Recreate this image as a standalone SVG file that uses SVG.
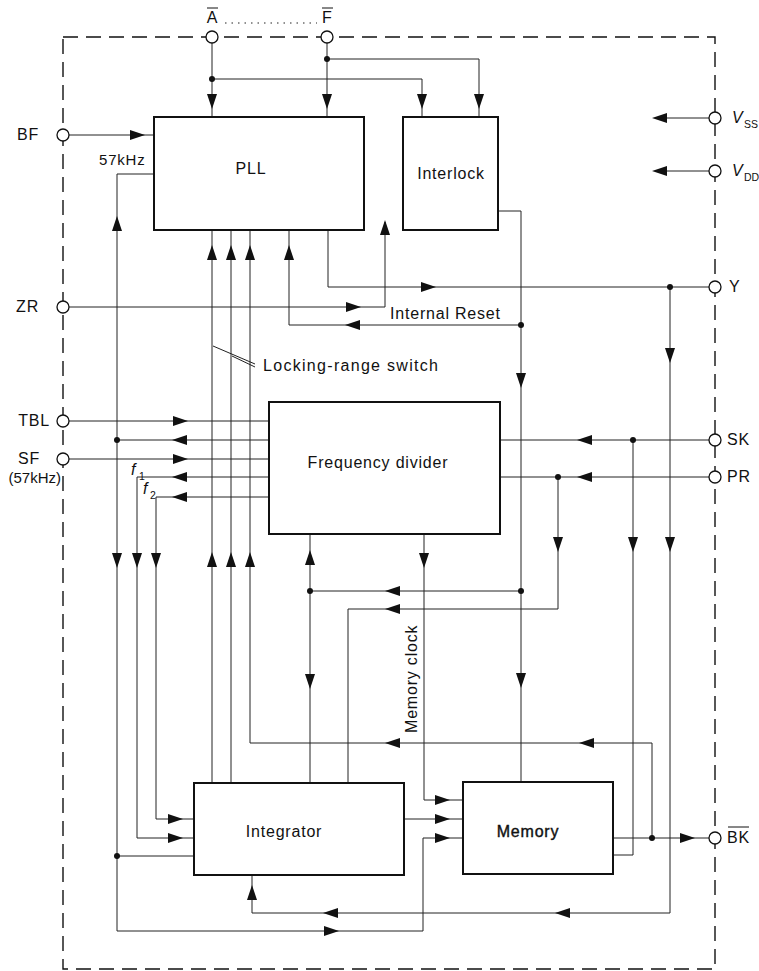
<svg xmlns="http://www.w3.org/2000/svg" xmlns:xlink="http://www.w3.org/1999/xlink" width="759" height="971" viewBox="0 0 759 971">
<style>
.bx{fill:#fff;stroke:#111;stroke-width:2}
.ln{fill:none;stroke:#222;stroke-width:1}
.bd{fill:none;stroke:#111;stroke-width:1.4;stroke-dasharray:15 8}
.pin{fill:#fff;stroke:#111;stroke-width:1.3}
.dot{fill:#111}
.t{font-family:"Liberation Sans",Arial,sans-serif;font-size:16px;fill:#111;letter-spacing:0.8px}
.tc{text-anchor:middle}
.te{text-anchor:end}
.sub{font-size:10.5px;letter-spacing:0}
.ar{fill:#111}
</style>
<defs>
<path id="a" d="M8,0 L-7,-5 L-7,5 Z"/>
</defs>
<rect width="759" height="971" fill="#fff"/>
<rect class="bd" x="63" y="37" width="652" height="932"/>

<g id="connectors">
<path class="ln" d="M212,43 V117 M212,79 H422 V117"/>
<path class="ln" d="M327,43 V117 M327,59 H479 V117"/>
<path class="ln" d="M69,135 H154"/>
<path class="ln" d="M154,174 H117 V931 H423 V838 H463"/>
<path class="ln" d="M269,440 H117"/>
<path class="ln" d="M117,856 H194"/>
<path class="ln" d="M69,307 H385 V222"/>
<path class="ln" d="M212,230 V783 M231,230 V783"/>
<path class="ln" d="M250,230 V743 H652 V838"/>
<path class="ln" d="M521,325 H289 V230"/>
<path class="ln" d="M328,230 V287 H709"/>
<path class="ln" d="M498,211 H521 V782"/>
<path class="ln" d="M670,287 V913 H252 V875"/>
<path class="ln" d="M709,118 H655 M709,171 H655"/>
<path class="ln" d="M69,421 H269 M69,459 H269"/>
<path class="ln" d="M269,477 H137 V838 H194"/>
<path class="ln" d="M269,497 H156 V819 H194"/>
<path class="ln" d="M709,440 H500 M633,440 V855 H613"/>
<path class="ln" d="M709,477 H500 M558,477 V609 H348 V783"/>
<path class="ln" d="M310,534 V783 M521,591 H310"/>
<path class="ln" d="M424,534 V800 H463"/>
<path class="ln" d="M404,819 H463"/>
<path class="ln" d="M613,838 H709"/>
<path class="ln" d="M213,346 L255,364 M232,356 L255,367" stroke-width="0.8"/>
<path class="ln" d="M225,23 H317" stroke-dasharray="1.5 5" stroke-width="1.3"/>

<circle class="dot" cx="212" cy="79" r="3"/>
<circle class="dot" cx="327" cy="59" r="3"/>
<circle class="dot" cx="117" cy="440" r="3"/>
<circle class="dot" cx="117" cy="856" r="3"/>
<circle class="dot" cx="521" cy="325" r="3"/>
<circle class="dot" cx="521" cy="591" r="3"/>
<circle class="dot" cx="310" cy="591" r="3"/>
<circle class="dot" cx="670" cy="287" r="3"/>
<circle class="dot" cx="633" cy="440" r="3"/>
<circle class="dot" cx="558" cy="477" r="3"/>
<circle class="dot" cx="652" cy="838" r="3"/>

<g class="ar">
<use xlink:href="#a" transform="translate(212,101) rotate(90)"/>
<use xlink:href="#a" transform="translate(327,101) rotate(90)"/>
<use xlink:href="#a" transform="translate(422,101) rotate(90)"/>
<use xlink:href="#a" transform="translate(479,101) rotate(90)"/>
<use xlink:href="#a" transform="translate(137,135)"/>
<use xlink:href="#a" transform="translate(117,224) rotate(-90)"/>
<use xlink:href="#a" transform="translate(212,253) rotate(-90)"/>
<use xlink:href="#a" transform="translate(231,253) rotate(-90)"/>
<use xlink:href="#a" transform="translate(250,253) rotate(-90)"/>
<use xlink:href="#a" transform="translate(289,253) rotate(-90)"/>
<use xlink:href="#a" transform="translate(353,307)"/>
<use xlink:href="#a" transform="translate(385,228) rotate(-90)"/>
<use xlink:href="#a" transform="translate(428,287)"/>
<use xlink:href="#a" transform="translate(353,325) rotate(180)"/>
<use xlink:href="#a" transform="translate(521,380) rotate(90)"/>
<use xlink:href="#a" transform="translate(670,355) rotate(90)"/>
<use xlink:href="#a" transform="translate(660,118) rotate(180)"/>
<use xlink:href="#a" transform="translate(660,171) rotate(180)"/>
<use xlink:href="#a" transform="translate(180,421)"/>
<use xlink:href="#a" transform="translate(180,440) rotate(180)"/>
<use xlink:href="#a" transform="translate(180,459)"/>
<use xlink:href="#a" transform="translate(180,477) rotate(180)"/>
<use xlink:href="#a" transform="translate(180,497) rotate(180)"/>
<use xlink:href="#a" transform="translate(585,440) rotate(180)"/>
<use xlink:href="#a" transform="translate(585,477) rotate(180)"/>
<use xlink:href="#a" transform="translate(117,560) rotate(90)"/>
<use xlink:href="#a" transform="translate(137,560) rotate(90)"/>
<use xlink:href="#a" transform="translate(156,560) rotate(90)"/>
<use xlink:href="#a" transform="translate(212,560) rotate(-90)"/>
<use xlink:href="#a" transform="translate(231,560) rotate(-90)"/>
<use xlink:href="#a" transform="translate(250,560) rotate(-90)"/>
<use xlink:href="#a" transform="translate(310,558) rotate(-90)"/>
<use xlink:href="#a" transform="translate(424,560) rotate(90)"/>
<use xlink:href="#a" transform="translate(558,544) rotate(90)"/>
<use xlink:href="#a" transform="translate(633,544) rotate(90)"/>
<use xlink:href="#a" transform="translate(670,544) rotate(90)"/>
<use xlink:href="#a" transform="translate(393,591) rotate(180)"/>
<use xlink:href="#a" transform="translate(393,609) rotate(180)"/>
<use xlink:href="#a" transform="translate(310,681) rotate(90)"/>
<use xlink:href="#a" transform="translate(521,680) rotate(90)"/>
<use xlink:href="#a" transform="translate(393,743) rotate(180)"/>
<use xlink:href="#a" transform="translate(587,743) rotate(180)"/>
<use xlink:href="#a" transform="translate(175,819)"/>
<use xlink:href="#a" transform="translate(175,838)"/>
<use xlink:href="#a" transform="translate(442,800)"/>
<use xlink:href="#a" transform="translate(442,819)"/>
<use xlink:href="#a" transform="translate(442,838)"/>
<use xlink:href="#a" transform="translate(687,838)"/>
<use xlink:href="#a" transform="translate(252,893) rotate(-90)"/>
<use xlink:href="#a" transform="translate(563,913) rotate(180)"/>
<use xlink:href="#a" transform="translate(331,913) rotate(180)"/>
<use xlink:href="#a" transform="translate(331,931)"/>
</g>
</g>

<g id="labels">
<text class="t" x="99" y="165" style="font-size:15px">57kHz</text>
<text class="t" x="390" y="319">Internal Reset</text>
<text class="t" x="263" y="371" style="letter-spacing:1.3px">Locking-range switch</text>
<text class="t" x="131" y="475" font-style="italic" style="letter-spacing:0">f</text>
<text class="t sub" x="139" y="480">1</text>
<text class="t" x="143" y="494" font-style="italic" style="letter-spacing:0">f</text>
<text class="t sub" x="150" y="499">2</text>
<text class="t" transform="translate(417,733) rotate(-90)">Memory clock</text>
</g>

<g id="PLL">
<rect class="bx" x="154" y="117" width="210" height="113"/>
<text class="t tc" x="251" y="174">PLL</text>
</g>
<g id="Interlock">
<rect class="bx" x="403" y="117" width="95" height="113"/>
<text class="t tc" x="451" y="179">Interlock</text>
</g>
<g id="FrequencyDivider">
<rect class="bx" x="269" y="402" width="231" height="132"/>
<text class="t tc" x="378" y="468">Frequency divider</text>
</g>
<g id="Integrator">
<rect class="bx" x="194" y="783" width="210" height="92"/>
<text class="t tc" x="284" y="837">Integrator</text>
</g>
<g id="Memory">
<rect class="bx" x="463" y="782" width="150" height="92"/>
<text class="t tc" x="528" y="837" stroke="#111" stroke-width="0.4">Memory</text>
</g>

<g id="pin-A">
<circle class="pin" cx="212" cy="37" r="6"/>
<text class="t tc" x="212" y="23" style="letter-spacing:0">A</text>
<line x1="207" y1="8" x2="218" y2="8" stroke="#111" stroke-width="1"/>
</g>
<g id="pin-F">
<circle class="pin" cx="327" cy="37" r="6"/>
<text class="t tc" x="327" y="23" style="letter-spacing:0">F</text>
<line x1="322" y1="8" x2="333" y2="8" stroke="#111" stroke-width="1"/>
</g>
<g id="pin-BF">
<circle class="pin" cx="63" cy="135" r="6"/>
<text class="t te" x="39" y="140">BF</text>
</g>
<g id="pin-ZR">
<circle class="pin" cx="63" cy="307" r="6"/>
<text class="t te" x="39" y="312">ZR</text>
</g>
<g id="pin-TBL">
<circle class="pin" cx="63" cy="421" r="6"/>
<text class="t te" x="50" y="426">TBL</text>
</g>
<g id="pin-SF">
<circle class="pin" cx="63" cy="459" r="6"/>
<text class="t te" x="40" y="464">SF</text>
<text class="t te" x="61" y="483" style="letter-spacing:0;font-size:15px">(57kHz)</text>
</g>
<g id="pin-VSS">
<circle class="pin" cx="715" cy="118" r="6"/>
<text class="t" x="732" y="123" font-style="italic" style="letter-spacing:0">V</text>
<text class="t sub" x="744" y="128">SS</text>
</g>
<g id="pin-VDD">
<circle class="pin" cx="715" cy="171" r="6"/>
<text class="t" x="732" y="176" font-style="italic" style="letter-spacing:0">V</text>
<text class="t sub" x="744" y="181">DD</text>
</g>
<g id="pin-Y">
<circle class="pin" cx="715" cy="287" r="6"/>
<text class="t" x="729" y="292">Y</text>
</g>
<g id="pin-SK">
<circle class="pin" cx="715" cy="440" r="6"/>
<text class="t" x="727" y="445">SK</text>
</g>
<g id="pin-PR">
<circle class="pin" cx="715" cy="477" r="6"/>
<text class="t" x="727" y="482">PR</text>
</g>
<g id="pin-BK">
<circle class="pin" cx="715" cy="838" r="6"/>
<text class="t" x="727" y="843">BK</text>
<line x1="728" y1="827" x2="749" y2="827" stroke="#111" stroke-width="1"/>
</g>
</svg>
